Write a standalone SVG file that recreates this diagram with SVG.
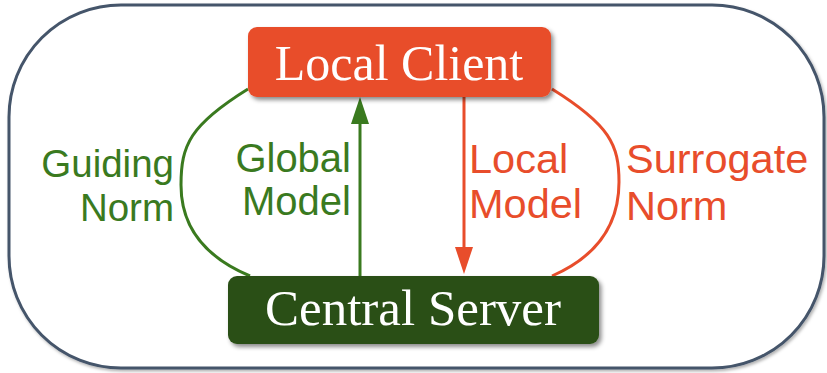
<svg xmlns="http://www.w3.org/2000/svg" width="827" height="373" viewBox="0 0 827 373">
  <defs>
    <filter id="shadow" x="-10%" y="-20%" width="130%" height="160%">
      <feDropShadow dx="2.5" dy="3" stdDeviation="2" flood-color="#000" flood-opacity="0.45"/>
    </filter>
    <filter id="softShadow" x="-5%" y="-5%" width="110%" height="115%">
      <feDropShadow dx="1.5" dy="2" stdDeviation="1.8" flood-color="#000" flood-opacity="0.3"/>
    </filter>
    <style>
      .box-text { font-family: "Liberation Serif", "DejaVu Serif", serif; fill: #ffffff; text-anchor: middle; }
      .label { font-family: "Liberation Sans", Arial, sans-serif; }
      .green { fill: #3a7a1f; font-size: 40px; }
      .small { font-size: 38.5px; }
      .red { fill: #e84d2b; font-size: 41.5px; }
      .edge { fill: none; stroke-width: 3; }
      .edge-green { stroke: #3a7a1f; }
      .edge-red { stroke: #e84d2b; }
    </style>
  </defs>

  <!-- outer boundary -->
  <rect id="frame" x="9" y="5" width="815" height="363" rx="112" ry="112" fill="#ffffff" stroke="#44546a" stroke-width="3" filter="url(#softShadow)"/>

  <!-- connectors -->
  <g id="connectors">
    <path class="edge edge-green" d="M248,89 C190,125 181,145 181,185 C181,222 200,255 250,276"/>
    <path class="edge edge-red" d="M552,89 C610,125 619,145 619,182 C619,222 600,255 552,276"/>
    <line class="edge edge-green" x1="360" y1="276" x2="360" y2="120"/>
    <path d="M351,124 L360,97 L369,124 Z" fill="#3a7a1f"/>
    <line class="edge edge-red" x1="464" y1="97" x2="464" y2="250"/>
    <path d="M455,247 L464,274 L473,247 Z" fill="#e84d2b"/>
  </g>

  <!-- connector labels -->
  <g id="labels">
    <text class="label green small" text-anchor="end" x="174" y="177">Guiding</text>
    <text class="label green small" text-anchor="end" x="174" y="221">Norm</text>
    <text class="label green" text-anchor="end" x="351" y="172">Global</text>
    <text class="label green" text-anchor="end" x="351" y="215">Model</text>
    <text class="label red" x="469" y="173">Local</text>
    <text class="label red" x="469" y="218">Model</text>
    <text class="label red" x="626" y="173">Surrogate</text>
    <text class="label red" x="626" y="220">Norm</text>
  </g>

  <!-- nodes -->
  <g id="local-client">
    <rect x="248" y="27" width="303" height="70" rx="9" fill="#e84d2b" filter="url(#shadow)"/>
    <text class="box-text" x="399" y="80" font-size="50">Local Client</text>
  </g>
  <g id="central-server">
    <rect x="228" y="276" width="371" height="68" rx="9" fill="#2a5016" filter="url(#shadow)"/>
    <text class="box-text" x="413" y="325" font-size="51">Central Server</text>
  </g>
</svg>
